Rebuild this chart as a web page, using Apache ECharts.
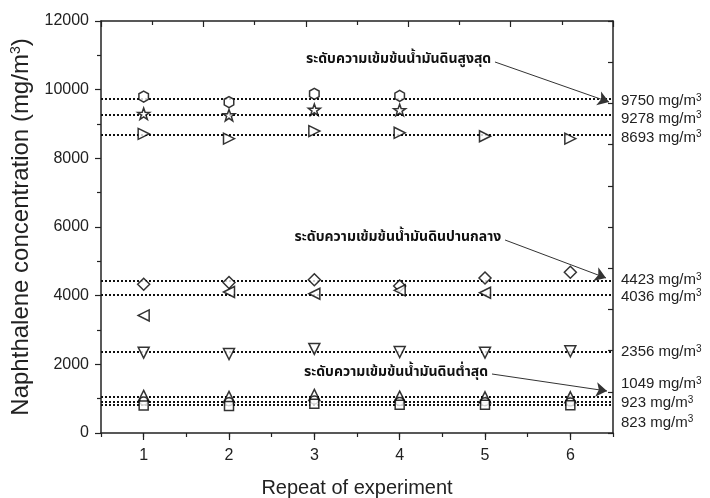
<!DOCTYPE html>
<html>
<head>
<meta charset="utf-8">
<script src="https://cdn.jsdelivr.net/npm/echarts@6/dist/echarts.min.js"></script>
<style>
  html, body { margin: 0; padding: 0; background: #fff; }
  #main { width: 710px; height: 498px; }
</style>
</head>
<body>
<div id="main"></div>
<script>
  // repeats on the x axis
  const repeats = [1, 2, 3, 4, 5, 6];
  // measured concentrations (mg/m3) per repeat
  const hexVals = [9800, 9640, 9880, 9820];
  const starVals = [9298, 9258, 9418, 9408];
  const rightTriVals = [8713, 8573, 8793, 8743, 8643, 8573];
  const diamondVals = [4333, 4383, 4463, 4283, 4513, 4683];
  const leftTriVals = [3424, 4106, 4056, 4156, 4086];
  const downTriVals = [2340, 2300, 2450, 2360, 2340, 2380];
  const upTriVals = [1080, 1050, 1110, 1060, 1040, 1040];
  const circleVals = [930, 910, 960, 920, 910, 900];
  const squareVals = [800, 790, 850, 820, 820, 810];
  // mean levels drawn as dotted lines
  const refLevels = [9750, 9278, 8693, 4423, 4036, 2356, 1049, 923, 823];
  const yTicks = [0, 2000, 4000, 6000, 8000, 10000, 12000];
  // annotation arrows: text, start [x, y], end [x, y]
  const noteTexts = ['ระดับความเข้มข้นน้ำมันดินสูงสุด', 'ระดับความเข้มข้นน้ำมันดินปานกลาง', 'ระดับความเข้มข้นน้ำมันดินต่ำสุด'];
  const noteFrom = [[5.117, 10806], [5.235, 5621], [5.082, 1718]];
  const noteTo = [[6.453, 9641], [6.418, 4515], [6.43, 1223]];

  const labelShift = [3, 4, 3, -1, 2, 0, -13, 2, 18];
  const font = 'Liberation Sans, Arial, sans-serif';
  const thaiFont = 'Noto Sans Thai, Loma, Garuda, Tlwg Typo, DejaVu Sans, sans-serif';

  const hexPath = 'path://M0,-1 L0.866,-0.5 L0.866,0.5 L0,1 L-0.866,0.5 L-0.866,-0.5 Z';
  const starPath = 'path://M0,-1 L0.235,-0.324 L0.951,-0.309 L0.380,0.124 L0.588,0.809 L0,0.4 L-0.588,0.809 L-0.380,0.124 L-0.951,-0.309 L-0.235,-0.324 Z';

  function refLine(i) {
    const dy = labelShift[i];
    return {
      silent: true,
      symbol: 'none',
      z: 1,
      animation: false,
      lineStyle: {color: '#111', type: 'dotted', width: 2},
      label: {
        position: 'end',
        distance: 8,
        padding: dy > 0 ? [2 * dy, 0, 0, 0] : [0, 0, -2 * dy, 0],
        formatter: '{a|' + refLevels[i] + ' mg/m}{s|3}',
        rich: {
          a: {fontSize: 15, color: '#222', fontFamily: font},
          s: {fontSize: 10, color: '#222', fontFamily: font, verticalAlign: 'top', padding: [0, 0, 6, 0]}
        }
      },
      data: [{yAxis: refLevels[i]}]
    };
  }

  function pts(vals) {
    return vals.map(function (v, i) { return [repeats[i], v]; });
  }

  const markerStyle = {color: '#fff', borderColor: '#000', borderWidth: 1.5};
  const groups = [
    {vals: hexVals, symbol: hexPath, rot: 0, size: 11},
    {vals: starVals, symbol: starPath, rot: 0, size: 12},
    {vals: rightTriVals, symbol: 'triangle', rot: -90, size: 11},
    {vals: diamondVals, symbol: 'diamond', rot: 0, size: 12},
    {vals: leftTriVals, symbol: 'triangle', rot: 90, size: 11},
    {vals: downTriVals, symbol: 'triangle', rot: 180, size: 11},
    {vals: upTriVals, symbol: 'triangle', rot: 0, size: 11},
    {vals: circleVals, symbol: 'circle', rot: 0, size: 8},
    {vals: squareVals, symbol: 'rect', rot: 0, size: 9}
  ];

  const series = groups.map(function (g, i) {
    return {
      type: 'scatter',
      z: 3,
      data: pts(g.vals),
      symbol: g.symbol,
      symbolKeepAspect: true,
      symbolRotate: g.rot,
      symbolSize: g.size,
      itemStyle: markerStyle,
      markLine: refLine(i)
    };
  });

  series.push({
    type: 'scatter',
    data: [],
    markLine: {
      silent: true,
      animation: false,
      symbol: ['none', 'arrow'],
      symbolSize: 11,
      itemStyle: {color: '#111'},
      lineStyle: {color: '#333', type: 'solid', width: 1},
      label: {
        position: 'start',
        distance: 4,
        formatter: '{b}',
        fontFamily: thaiFont,
        fontSize: 14,
        fontWeight: 'bold',
        color: '#111'
      },
      data: noteTexts.map(function (t, i) {
        return [{name: t, coord: noteFrom[i]}, {coord: noteTo[i]}];
      })
    }
  });

  const chart = echarts.init(document.getElementById('main'));
  chart.setOption({
    animation: false,
    backgroundColor: '#fff',
    grid: {left: 101, right: 97, top: 21, bottom: 65, outerBoundsMode: 'none', containLabel: false},
    xAxis: [{
      type: 'value',
      position: 'bottom',
      min: 0.5, max: 6.5, interval: 0.5,
      name: 'Repeat of experiment',
      nameLocation: 'middle',
      nameGap: 45,
      nameTextStyle: {fontSize: 20, color: '#222', fontFamily: font},
      axisLine: {lineStyle: {color: '#222', width: 1.5}},
      axisTick: {inside: false, length: 4, lineStyle: {color: '#222', width: 1.2}},
      axisLabel: {
        margin: 15, fontSize: 16, color: '#222', fontFamily: font,
        formatter: function (v) { return repeats.indexOf(v) >= 0 ? String(v) : ''; }
      },
      splitLine: {show: false}
    }, {
      type: 'value',
      position: 'bottom',
      min: 0.5, max: 6.5,
      axisLine: {show: false},
      axisTick: {inside: false, length: 7, customValues: repeats, lineStyle: {color: '#222', width: 1.2}},
      axisLabel: {show: false},
      splitLine: {show: false}
    }, {
      type: 'value',
      position: 'top',
      min: 0, max: 10, interval: 2,
      axisLine: {lineStyle: {color: '#222', width: 1.5}},
      axisTick: {inside: true, length: 6, lineStyle: {color: '#222', width: 1.2}},
      minorTick: {show: true, splitNumber: 2, length: 4, lineStyle: {color: '#222', width: 1.2}},
      axisLabel: {show: false},
      splitLine: {show: false}
    }],
    yAxis: [{
      type: 'value',
      position: 'left',
      min: yTicks[0], max: yTicks[yTicks.length - 1], interval: 2000,
      name: '{a|Naphthalene concentration (mg/m}{s|3}{a|)}',
      nameLocation: 'middle',
      nameGap: 63,
      nameRotate: 90,
      nameTextStyle: {
        rich: {
          a: {fontSize: 24, color: '#222', fontFamily: font},
          s: {fontSize: 14, color: '#222', fontFamily: font, verticalAlign: 'top', padding: [0, 0, 9, 0]}
        }
      },
      axisLine: {lineStyle: {color: '#222', width: 1.5}},
      axisTick: {inside: false, length: 6, lineStyle: {color: '#222', width: 1.2}},
      minorTick: {show: true, splitNumber: 2, length: 4, lineStyle: {color: '#222', width: 1.2}},
      axisLabel: {
        margin: 12, fontSize: 16, color: '#222', fontFamily: font,
        formatter: function (v) { return String(v); }
      },
      splitLine: {show: false}
    }, {
      type: 'value',
      position: 'right',
      min: 0, max: 10, interval: 1,
      axisLine: {lineStyle: {color: '#222', width: 1.5}},
      axisTick: {inside: true, length: 5, lineStyle: {color: '#222', width: 1.2}},
      axisLabel: {show: false},
      splitLine: {show: false}
    }],
    series: series
  });
</script>
</body>
</html>
